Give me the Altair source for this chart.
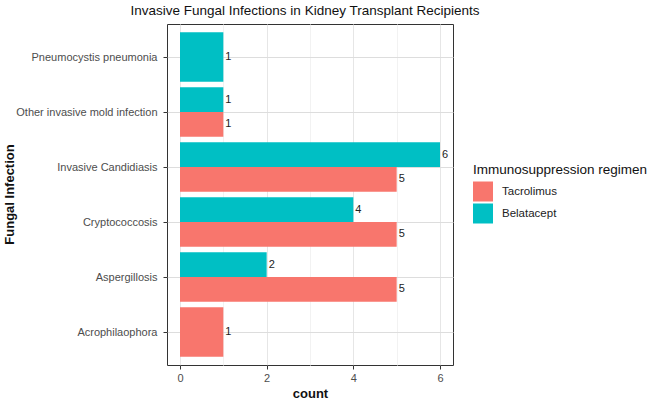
import altair as alt
import pandas as pd

categories = ["Pneumocystis pneumonia", "Other invasive mold infection",
              "Invasive Candidiasis", "Cryptococcosis", "Aspergillosis",
              "Acrophilaophora"]
tacrolimus = [0, 1, 5, 5, 5, 1]
belatacept = [1, 1, 6, 4, 2, 0]
regimens = ["Tacrolimus", "Belatacept"]
colors = ["#F8766D", "#00BFC4"]
x_ticks = [0, 1, 2, 3, 4, 5, 6]

rows = []
for i, c in enumerate(categories):
    for g, vals in (("Tacrolimus", tacrolimus), ("Belatacept", belatacept)):
        if vals[i] > 0:
            rows.append({"infection": c, "pos": i + 1, "regimen": g,
                         "order": 0 if g == "Belatacept" else 1,
                         "cases": vals[i]})
df = pd.DataFrame(rows)

label_array = "[" + ",".join("'" + c + "'" for c in categories) + "]"

base = (
    alt.Chart(df)
    .transform_joinaggregate(n="count()", groupby=["infection"])
    .transform_window(r="row_number()", groupby=["infection"],
                      sort=[alt.SortField("order")])
    .transform_calculate(lo="datum.pos - 0.45 + (datum.r - 1) * 0.9 / datum.n")
    .transform_calculate(hi="datum.pos - 0.45 + datum.r * 0.9 / datum.n")
    .transform_calculate(mid="(datum.lo + datum.hi) / 2")
    .transform_calculate(zero="0")
)

xscale = alt.Scale(domain=[-0.3, 6.3], nice=False, zero=False)
yscale = alt.Scale(domain=[0.4, 6.6], nice=False, zero=False, reverse=True)

xaxis = alt.Axis(
    values=x_ticks,
    labelExpr="datum.value % 2 == 0 ? datum.label : ''",
    gridColor={"condition": {"test": "datum.value % 2 == 1", "value": "#f2f2f2"},
               "value": "#e6e6e6"},
    tickOpacity={"condition": {"test": "datum.value % 2 == 1", "value": 0},
                 "value": 1},
    title="count",
)
yaxis = alt.Axis(
    values=[1, 2, 3, 4, 5, 6],
    labelExpr=label_array + "[datum.value - 1]",
    title="Fungal Infection",
    titleX=-158, titleY=170, titleAngle=-90, titleAlign="center",
    titleBaseline="middle", labelPadding=6,
)

bars = base.mark_rect().encode(
    x=alt.X("zero:Q", scale=xscale, axis=xaxis),
    x2="cases:Q",
    y=alt.Y("lo:Q", scale=yscale, axis=yaxis),
    y2="hi:Q",
    color=alt.Color(
        "regimen:N",
        scale=alt.Scale(domain=regimens, range=colors),
        legend=alt.Legend(
            title="Immunosuppression regimen", orient="none",
            legendX=306, legendY=139, symbolType="square", symbolSize=400,
            symbolStrokeWidth=0, symbolOpacity=1, rowPadding=2,
            labelOffset=9,
            titleFontSize=13.5, titleFontWeight="normal", titleColor="#111",
            labelFontSize=11.5, labelColor="#222", titlePadding=5,
        ),
    ),
)

labels = base.mark_text(align="left", baseline="middle", dx=2, fontSize=11,
                        color="#222").encode(
    x=alt.X("cases:Q", scale=xscale),
    y=alt.Y("mid:Q", scale=yscale),
    text="cases:Q",
)

chart = (
    alt.layer(bars, labels)
    .properties(
        width=286, height=341,
        title=alt.TitleParams(
            "Invasive Fungal Infections in Kidney Transplant Recipients",
            fontSize=13.5, fontWeight="normal", color="#111", anchor="middle",
            offset=7, dx=-5,
        ),
        padding={"left": 167, "top": 24, "right": 197, "bottom": 35},
        autosize=alt.AutoSizeParams(type="none"),
    )
    .configure(font="Liberation Sans")
    .configure_view(stroke="#333333", strokeWidth=1)
    .configure_axis(
        domain=False, labelColor="#4d4d4d", labelFontSize=11,
        tickColor="#333333", tickSize=4, labelPadding=3,
        titleFontSize=13, titleFontWeight="bold", titleColor="#111",
        gridWidth=1,
    )
    .configure_axisX(titlePadding=4)
)

chart.save("out.html", embed_options={"renderer": "svg", "actions": False})
